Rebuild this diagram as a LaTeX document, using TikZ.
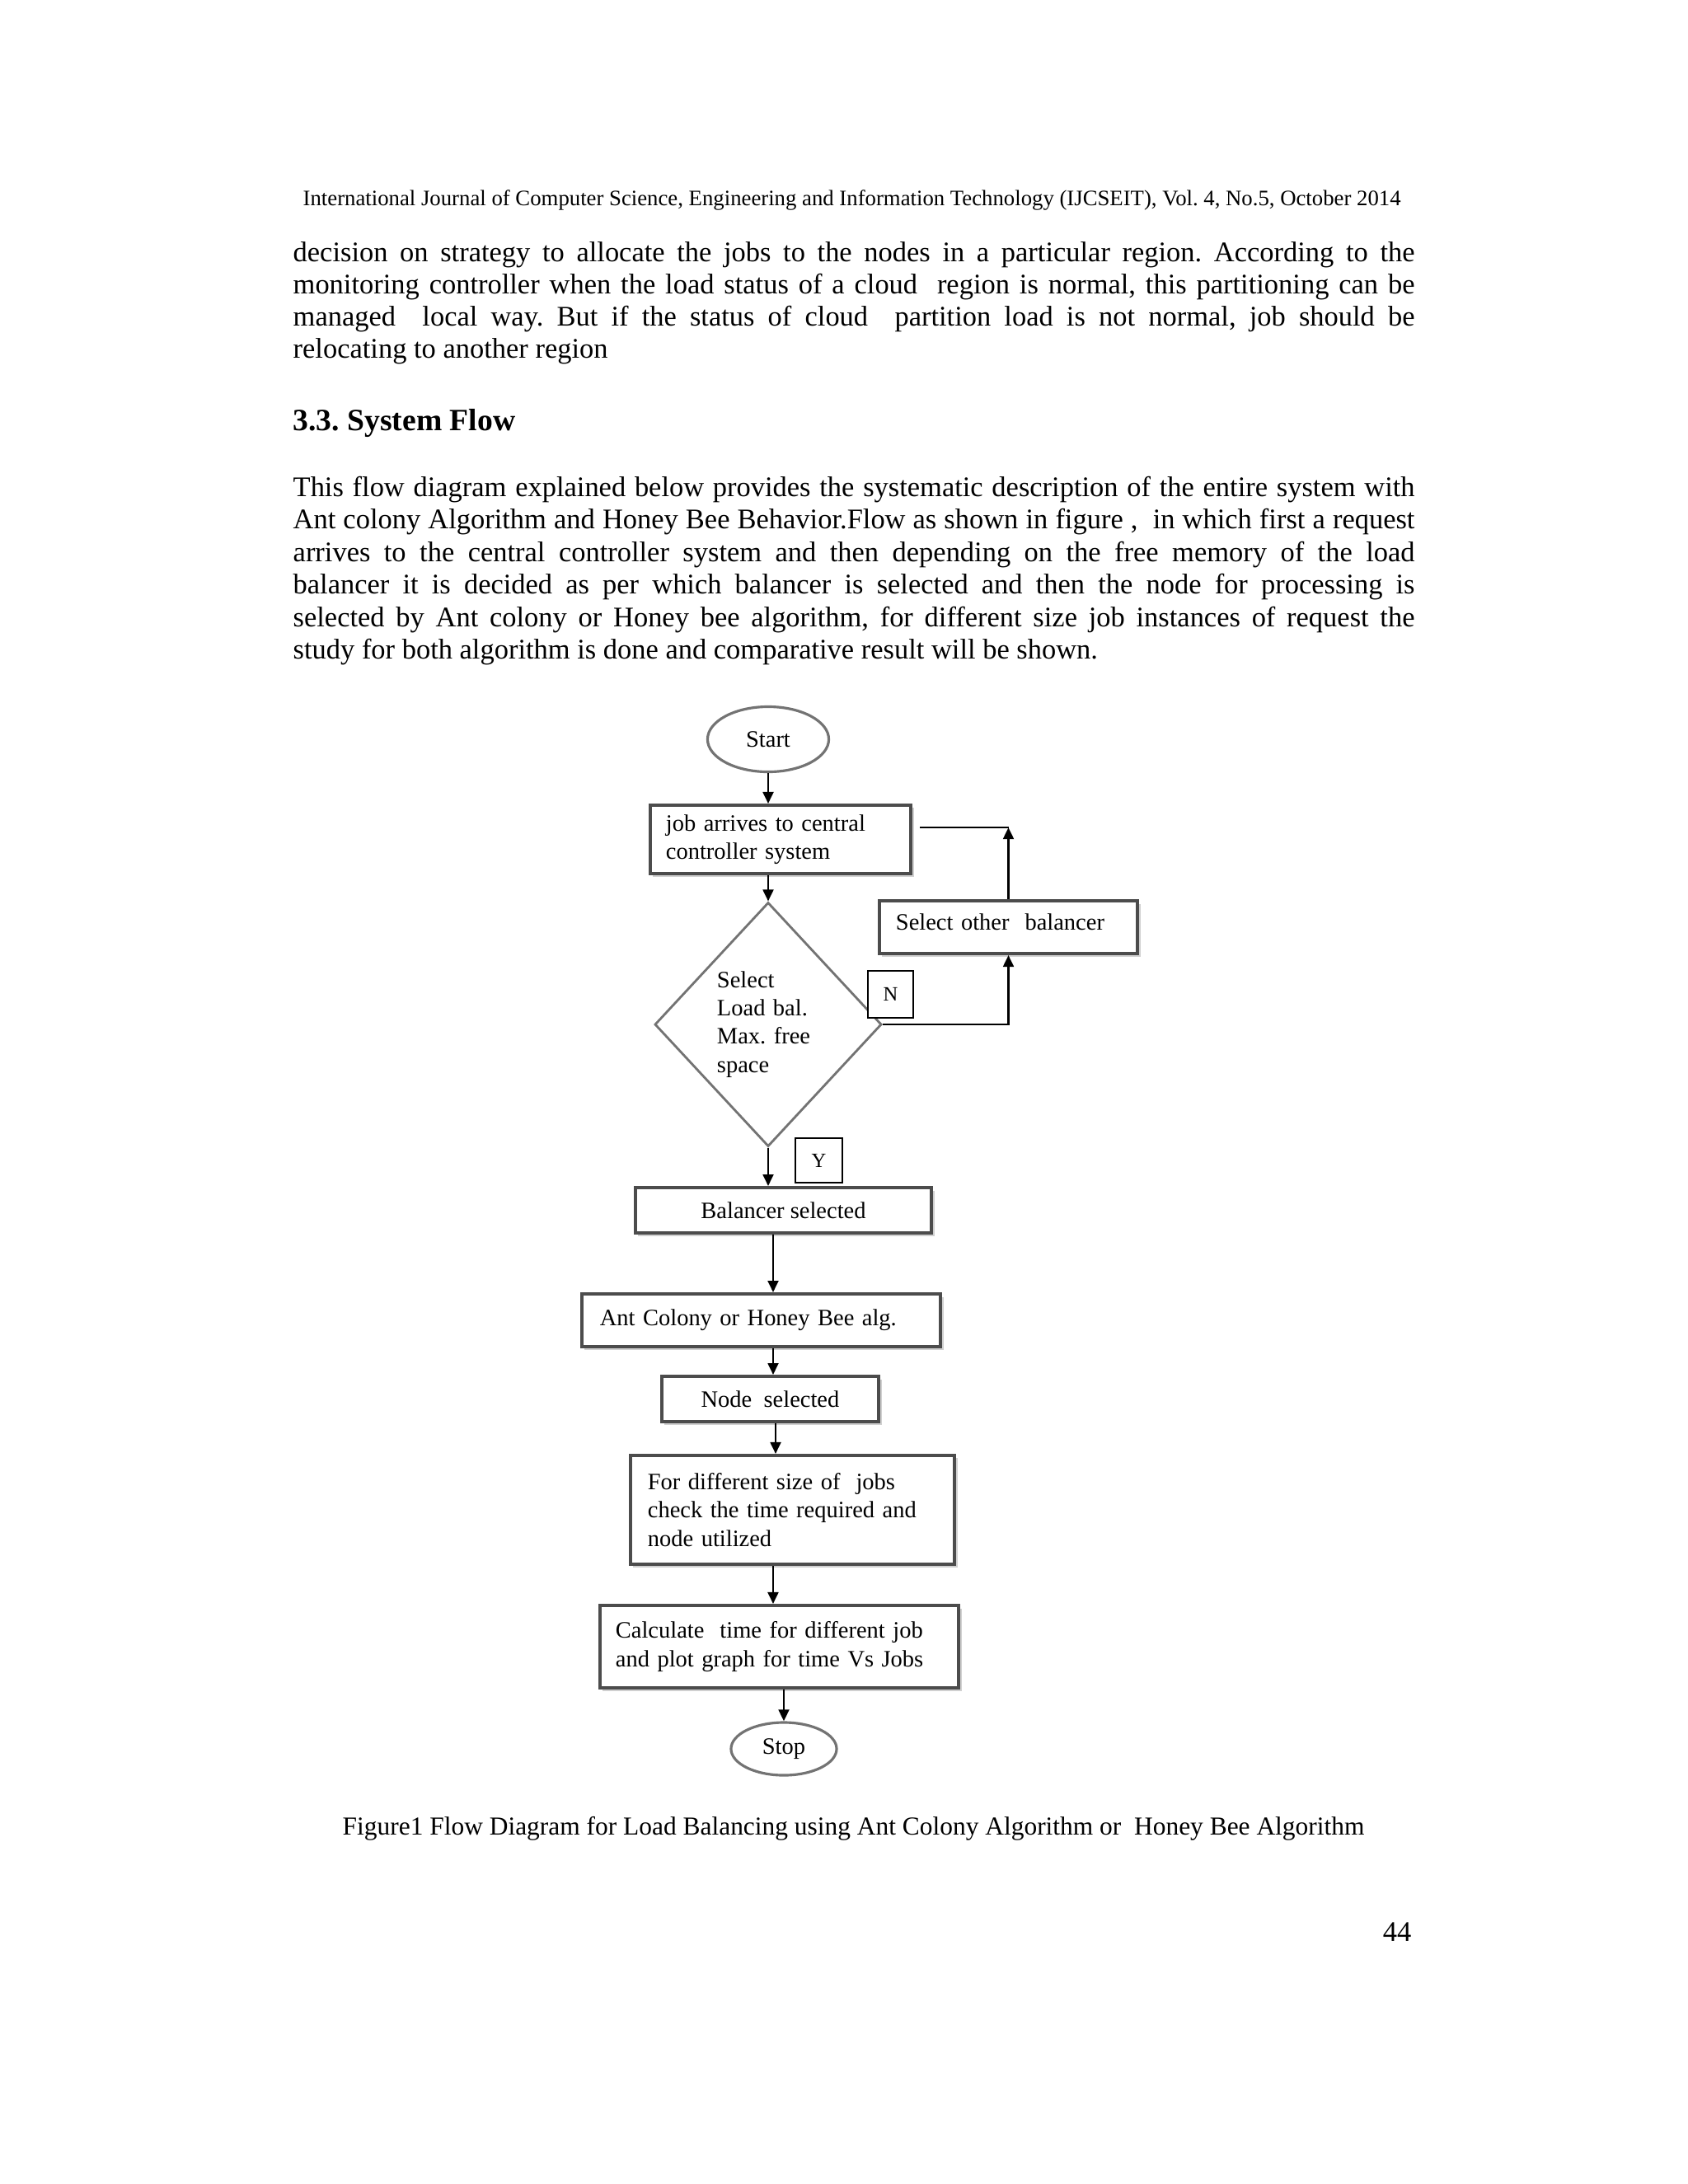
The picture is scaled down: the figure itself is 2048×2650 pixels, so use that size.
\documentclass[tikz,border=0pt]{standalone}
\usepackage{fontspec}
\setmainfont{Liberation Serif}
\usetikzlibrary{shapes.geometric,arrows.meta,shadows}
\frenchspacing
\tikzset{
  bodyline/.style={anchor=base west, inner sep=0pt, font=\fontsize{9.8}{11}\selectfont},
  box/.style={draw=black!70, line width=1.1pt, fill=white, inner sep=0pt,
    font=\fontsize{8.1}{9.7}\selectfont,
    drop shadow={shadow xshift=0.035cm, shadow yshift=-0.035cm, fill=black!30, opacity=0.6}},
  lbox/.style={box, align=left},
  ell/.style={ellipse, draw=black!55, line width=0.9pt, fill=white, inner sep=0pt,
    font=\fontsize{8.1}{9.7}\selectfont},
  dia/.style={diamond, draw=black!55, line width=0.8pt, fill=white, inner sep=0pt,
    align=left, text width=1.24cm, font=\fontsize{8.1}{9.7}\selectfont, minimum width=2.75cm, minimum height=2.96cm},
  tagbox/.style={draw=black, line width=0.7pt, fill=white, inner sep=0pt,
    font=\fontsize{7}{8}\selectfont},
  arr/.style={-{Triangle[length=4pt,width=3.6pt]}, line width=0.8pt},
  plain/.style={line width=0.8pt}
}
\begin{document}
\begin{tikzpicture}[x=0.01cm,y=-0.01cm]
\useasboundingbox[fill=white] (0,0) rectangle (2048,2650);

% header
\node[bodyline] (hdr) at (367,249) {\resizebox{13.31cm}{!}{International Journal of Computer Science, Engineering and Information Technology (IJCSEIT), Vol. 4, No.5, October 2014}};

% paragraph 1
\node[bodyline] (p1a) at (355,317) {\makebox[13.6cm][s]{decision on strategy to allocate the jobs to the nodes in a particular region. According to the}};
\node[bodyline] (p1b) at (355,356) {\makebox[13.6cm][s]{monitoring controller when the load status of a cloud\ \ region is normal, this partitioning can be}};
\node[bodyline] (p1c) at (355,395) {\makebox[13.6cm][s]{managed\ \ local way. But if the status of cloud\ \ partition load is not normal, job should be}};
\node[bodyline] (p1d) at (355,434) {relocating to another region};

% heading
\node[anchor=base west, inner sep=0pt, font=\fontsize{10.7}{12}\selectfont\bfseries] (head) at (355,522) {3.3. System Flow};

% paragraph 2
\node[bodyline] (p2a) at (355,602) {\makebox[13.6cm][s]{This flow diagram explained below provides the systematic description of the entire system with}};
\node[bodyline] (p2b) at (355,641.5) {\makebox[13.6cm][s]{Ant colony Algorithm and Honey Bee Behavior.Flow as shown in figure ,\ \ in which first a request}};
\node[bodyline] (p2c) at (355,681) {\makebox[13.6cm][s]{arrives to the central controller system and then depending on the free memory of the load}};
\node[bodyline] (p2d) at (355,720.5) {\makebox[13.6cm][s]{balancer it is decided as per which balancer is selected and then the node for processing is}};
\node[bodyline] (p2e) at (355,760) {\makebox[13.6cm][s]{selected by Ant colony or Honey bee algorithm, for different size job instances of request the}};
\node[bodyline] (p2f) at (355,799.5) {study for both algorithm is done and comparative result will be shown.};

% flowchart nodes
\node[ell, minimum width=1.47cm, minimum height=0.79cm] (start) at (932,897) {Start};
\node[lbox, inner xsep=0.19cm, text width=2.78cm, minimum height=0.83cm] (job) at (947,1018.5) {\mbox{job arrives to central}\\\mbox{controller system}};
\node[dia] (dec) at (932,1243) {Select\\Load bal.\\Max. free\\space};
\node[lbox, inner xsep=0.20cm, text width=2.73cm, minimum height=0.64cm, text depth=0.12cm] (sel) at (1223.5,1125) {\mbox{Select other\ \ balancer}};
\node[tagbox, minimum width=0.55cm, minimum height=0.57cm] (n) at (1080.5,1206.5) {N};
\node[tagbox, minimum width=0.57cm, minimum height=0.54cm] (y) at (993.5,1408) {Y};
\node[box, minimum width=3.59cm, minimum height=0.55cm] (bal) at (950.5,1468.5) {Balancer selected};
\node[lbox, inner xsep=0.22cm, text width=3.91cm, minimum height=0.64cm] (ant) at (923.5,1602) {\mbox{Ant Colony or Honey Bee alg.}};
\node[box, minimum width=2.63cm, minimum height=0.55cm] (nsel) at (934.5,1697.5) {Node\ \ selected};
\node[lbox, inner xsep=0.21cm, text width=3.51cm, minimum height=1.32cm] (diff) at (961.5,1832) {\mbox{For different size of\ \ jobs}\\\mbox{check the time required and}\\\mbox{node utilized}};
\node[lbox, inner xsep=0.19cm, text width=3.97cm, minimum height=1.00cm] (calc) at (945.5,1998) {\mbox{Calculate\ \ time for different job}\\\mbox{and plot graph for time Vs Jobs}};
\node[ell, minimum width=1.28cm, minimum height=0.64cm] (stop) at (951,2122) {Stop};

% connectors
\draw[arr] (start.south) -- (start.south |- job.north);
\draw[arr] (dec.north |- job.south) -- (dec.north);
\draw[arr] (dec.south) -- (dec.south |- bal.north);
\draw[arr] ([xshift=-0.125cm]bal.south) -- ([xshift=-0.125cm]bal.south |- ant.north);
\draw[arr] ([xshift=0.145cm]ant.south) -- ([xshift=0.145cm]ant.south |- nsel.north);
\draw[arr] ([xshift=0.065cm]nsel.south) -- ([xshift=0.065cm]nsel.south |- diff.north);
\draw[arr] ([xshift=-0.235cm]diff.south) -- ([xshift=-0.235cm]diff.south |- calc.north);
\draw[arr] (stop.north |- calc.south) -- (stop.north);

\draw[arr] (dec.east) -| (sel.south);
\coordinate (corner) at ([yshift=0.145cm]sel.north |- job.east);
\draw[arr] (sel.north) -- (corner);
\draw[plain] (corner) -- ([xshift=0.09cm]job.east |- corner);

% caption and page number
\node[bodyline] (cap) at (415,2226) {\resizebox{12.39cm}{!}{Figure1 Flow Diagram for Load Balancing using Ant Colony Algorithm or\ \ Honey Bee Algorithm}};
\node[anchor=base east, inner sep=0pt, font=\fontsize{9.8}{11}\selectfont] (pg) at (1713,2355) {44};
\end{tikzpicture}
\end{document}
